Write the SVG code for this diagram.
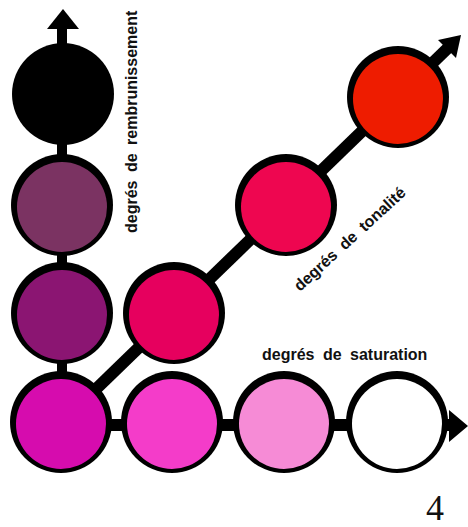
<svg xmlns="http://www.w3.org/2000/svg" width="468" height="527" viewBox="0 0 468 527">
<style>
.ring{fill:#000}
.lbl{font-family:"Liberation Sans",Arial,sans-serif;font-weight:bold;font-size:16px;fill:#111;word-spacing:4px}
.num{font-family:"Liberation Serif","Times New Roman",serif;font-size:36px;fill:#111}
</style>
<rect width="468" height="527" fill="#fff"/>
<g id="connectors" fill="#000" stroke="#000">
  <line x1="62" y1="422" x2="62" y2="24" stroke-width="10"/>
  <polygon points="47,29 79,29 63,9" stroke="none"/>
  <line x1="62" y1="425" x2="452" y2="425" stroke-width="12"/>
  <polygon points="449,410 468,426 449,442" stroke="none"/>
  <line x1="62" y1="422" x2="450" y2="46" stroke-width="12"/>
  <polygon points="461,35 438,40 456,58" stroke="none"/>
</g>
<g id="n-brown-3"><circle class="ring" cx="63" cy="94" r="51"/><circle cx="63" cy="96" r="45" fill="#000"/></g>
<g id="n-brown-2"><circle class="ring" cx="62" cy="205" r="51"/><circle cx="62" cy="207" r="45" fill="#7b3362"/></g>
<g id="n-brown-1"><circle class="ring" cx="62" cy="313" r="51"/><circle cx="62" cy="315" r="45" fill="#8b1572"/></g>
<g id="n-origin"><circle class="ring" cx="61" cy="422" r="51"/><circle cx="61" cy="424" r="45" fill="#d60cae"/></g>
<g id="n-sat-1"><circle class="ring" cx="172" cy="422" r="51"/><circle cx="172" cy="424" r="45" fill="#f43cc9"/></g>
<g id="n-sat-2"><circle class="ring" cx="284" cy="422" r="51"/><circle cx="284" cy="424" r="45" fill="#f68bd6"/></g>
<g id="n-sat-3"><circle class="ring" cx="397" cy="422" r="51"/><circle cx="397" cy="424" r="45" fill="#fff"/></g>
<g id="n-ton-1"><circle class="ring" cx="174" cy="313" r="51"/><circle cx="174" cy="315" r="45" fill="#e6005e"/></g>
<g id="n-ton-2"><circle class="ring" cx="286" cy="205" r="51"/><circle cx="286" cy="207" r="45" fill="#ee0650"/></g>
<g id="n-ton-3"><circle class="ring" cx="398" cy="97" r="51"/><circle cx="398" cy="99" r="45" fill="#ee1c00"/></g>
<g id="labels">
  <text class="lbl" transform="translate(137,233) rotate(-90)">degrés de rembrunissement</text>
  <text class="lbl" x="262" y="360">degrés de saturation</text>
  <text class="lbl" transform="translate(300,292) rotate(-42.5)">degrés de tonalité</text>
  <text class="num" x="426" y="520">4</text>
</g>
</svg>
